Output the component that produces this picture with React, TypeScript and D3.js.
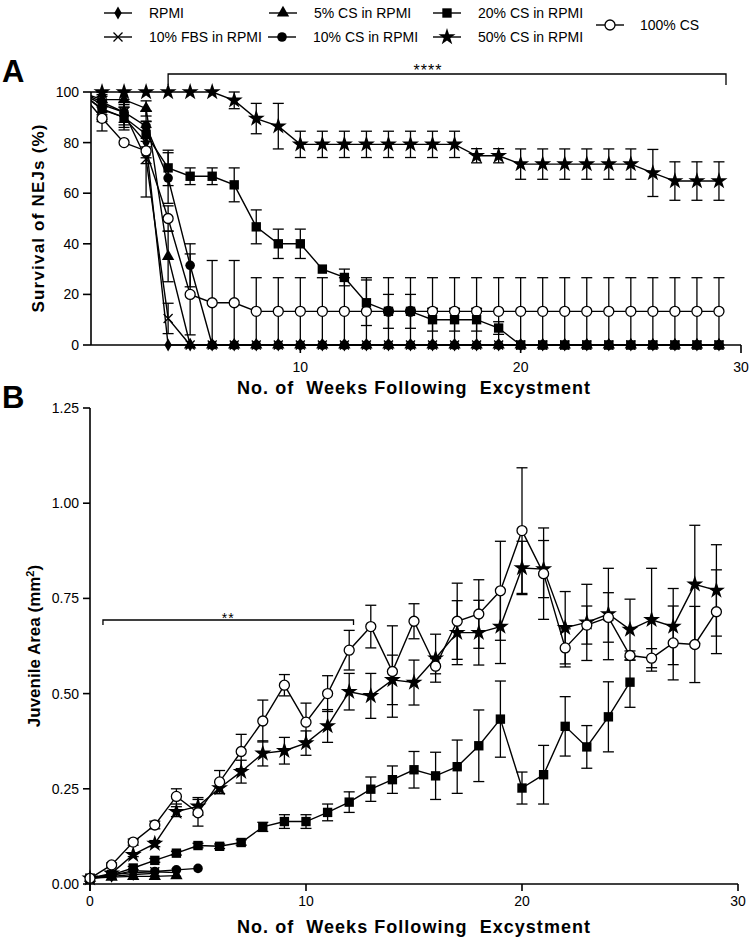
import React from 'react';
import * as d3 from 'd3';

// ---------- DATA ----------
const WEEKS = [0,1,2,3,4,5,6,7,8,9,10,11,12,13,14,15,16,17,18,19,20,21,22,23,24,25,26,27,28,29];

// Panel A: survival of NEJs (%) by week
const survRPMI = [100,93,90,80,0,0,0,0,0,0, 0,0,0,0,0,0,0,0,0,0, 0,0,0,0,0,0,0,0,0,0];
const errRPMI  = [0,4,4,6,0,0,0,0,0,0, 0,0,0,0,0,0,0,0,0,0, 0,0,0,0,0,0,0,0,0,0];
const survFBS  = [100,95,92,73.5,10.5,0,0,0,0,0, 0,0,0,0,0,0,0,0,0,0, 0,0,0,0,0,0,0,0,0,0];
const errFBS   = [0,4,5,15,6,0,0,0,0,0, 0,0,0,0,0,0,0,0,0,0, 0,0,0,0,0,0,0,0,0,0];
const survCS5  = [100,97,97,93.5,35,0,0,0,0,0, 0,0,0,0,0,0,0,0,0,0, 0,0,0,0,0,0,0,0,0,0];
const errCS5   = [0,3,3,3,10,0,0,0,0,0, 0,0,0,0,0,0,0,0,0,0, 0,0,0,0,0,0,0,0,0,0];
const survCS10 = [100,96,92,86.5,66,31.5,0,0,0,0, 0,0,0,0,0,0,0,0,0,0, 0,0,0,0,0,0,0,0,0,0];
const errCS10  = [0,4,4,6,10,8.5,0,0,0,0, 0,0,0,0,0,0,0,0,0,0, 0,0,0,0,0,0,0,0,0,0];
const survCS20 = [100,93.3,90,83.3,70,66.7,66.7,63.3,46.7,40, 40,30,26.7,16.7,13.3,13.3,10,10,10,6.7, 0,0,0,0,0,0,0,0,0,0];
const errCS20  = [0,5,5,5,7,3.3,3.3,6.7,6.7,5.8, 5.8,0,3.3,9,6.7,6.7,4.5,4.5,4.5,2.5, 0,0,0,0,0,0,0,0,0,0];
const survCS50 = [100,100,100,100,100,100,100,96.7,89.5,86.5, 79.3,79.3,79.3,79.3,79.3,79.3,79.3,79.3,74.8,74.8, 71.5,71.5,71.5,71.5,71.5,71.5,68,64.8,64.8,64.8];
const errCS50  = [0,0,0,0,0,0,0,3.3,6,9, 5.2,5.2,5.2,5.2,5.2,5.2,5.2,5.2,2.8,2.8, 6,6,6,6,6,6,9.3,7.6,7.6,7.6];
const survCS100 = [100,89.6,80,76.7,50,20,16.7,16.7,13.3,13.3, 13.3,13.3,13.3,13.3,13.3,13.3,13.3,13.3,13.3,13.3, 13.3,13.3,13.3,13.3,13.3,13.3,13.3,13.3,13.3,13.3];
const errCS100  = [0,5,0,5,5,16,16.7,16.7,13.3,13.3, 13.3,13.3,13.3,13.3,13.3,13.3,13.3,13.3,13.3,13.3, 13.3,13.3,13.3,13.3,13.3,13.3,13.3,13.3,13.3,13.3];

// Panel B: juvenile area (mm^2) by week
const areaRPMI = [0.015,0.02,0.025,0.028];
const areaFBS  = [0.015,0.025,0.03,0.032,0.03];
const areaCS5  = [0.015,0.018,0.02,0.02,0.022];
const areaCS10 = [0.015,0.022,0.035,0.033,0.037,0.041];
const areaCS20 = [0.015,0.024,0.042,0.062,0.081,0.101,0.099,0.109,0.15,0.164, 0.164,0.188,0.215,0.249,0.274,0.30,0.284,0.308,0.363,0.433, 0.252,0.287,0.414,0.36,0.439,0.53];
const aErrCS20 = [0,0.003,0.004,0.005,0.005,0.006,0.006,0.007,0.012,0.018, 0.018,0.022,0.027,0.032,0.036,0.048,0.062,0.07,0.094,0.1, 0.042,0.077,0.078,0.056,0.092,0.066];
const areaCS50 = [0.015,0.028,0.077,0.106,0.19,0.204,0.252,0.295,0.343,0.35, 0.37,0.415,0.505,0.494,0.536,0.529,0.593,0.66,0.66,0.676, 0.83,0.827,0.673,0.687,0.709,0.668,0.694,0.676,0.787,0.771];
const aErrCS50 = [0,0.003,0.005,0.008,0.013,0.023,0.015,0.03,0.033,0.035, 0.032,0.043,0.048,0.059,0.065,0.059,0.063,0.084,0.085,0.097, 0.07,0.075,0.095,0.1,0.12,0.08,0.135,0.1,0.155,0.12];
const areaCS100 = [0.015,0.05,0.11,0.155,0.23,0.187,0.268,0.348,0.428,0.522, 0.425,0.50,0.614,0.676,0.558,0.69,0.572,0.69,0.709,0.77, 0.928,0.815,0.62,0.68,0.70,0.60,0.593,0.633,0.629,0.715];
const aErrCS100 = [0,0.005,0.008,0.01,0.02,0.035,0.03,0.045,0.055,0.028, 0.05,0.047,0.052,0.056,0.12,0.046,0.02,0.1,0.09,0.13, 0.165,0.12,0.05,0.05,0.065,0.012,0.025,0.097,0.1,0.11];

const TICKS_A_Y = [0,20,40,60,80,100];
const TICKS_A_X = [10,20,30];
const TICKS_B_Y = [0,0.25,0.5,0.75,1.0,1.25];
const TICKS_B_X = [0,10,20,30];

type Kind = 'diamond' | 'x' | 'triangle' | 'dot' | 'square' | 'star' | 'open';
const LEGEND: { label: string; kind: Kind; x: number; y: number }[] = [
  { label: 'RPMI', kind: 'diamond', x: 118, y: 13 },
  { label: '5% CS in RPMI', kind: 'triangle', x: 283, y: 13 },
  { label: '20% CS in RPMI', kind: 'square', x: 447, y: 13 },
  { label: '10% FBS in RPMI', kind: 'x', x: 118, y: 37 },
  { label: '10% CS in RPMI', kind: 'dot', x: 282, y: 37 },
  { label: '50% CS in RPMI', kind: 'star', x: 447, y: 37 },
  { label: '100% CS', kind: 'open', x: 610, y: 25 },
];

const FONT = 'Liberation Sans, Arial, sans-serif';

function Marker({ kind, x, y }: { kind: Kind; x: number; y: number }) {
  const t = `translate(${x},${y})`;
  switch (kind) {
    case 'diamond':
      return <path transform={t} d={d3.symbol(d3.symbolDiamond, 48)()!} fill="#000" />;
    case 'triangle':
      return <path transform={t} d={d3.symbol(d3.symbolTriangle, 66)()!} fill="#000" />;
    case 'square':
      return <path transform={t} d={d3.symbol(d3.symbolSquare, 88)()!} fill="#000" />;
    case 'star':
      return <path transform={t} d={d3.symbol(d3.symbolStar, 90)()!} fill="#000" />;
    case 'dot':
      return <circle cx={x} cy={y} r={4.8} fill="#000" />;
    case 'open':
      return <circle cx={x} cy={y} r={5} fill="#fff" stroke="#000" strokeWidth={1.3} />;
    case 'x':
      return <path transform={t} d="M-4.5,-4.5L4.5,4.5M-4.5,4.5L4.5,-4.5" stroke="#000" strokeWidth={1.3} fill="none" />;
  }
  return null;
}

type Series = { kind: Kind; vals: number[]; errs?: number[] };

function Panel({ series, x, y, clipId, clip }: {
  series: Series[]; x: d3.ScaleLinear<number, number>; y: d3.ScaleLinear<number, number>;
  clipId: string; clip: [number, number, number, number];
}) {
  const line = d3.line<number>().x((_, i) => x(WEEKS[i])).y((v) => y(v));
  return (
    <g>
      <defs>
        <clipPath id={clipId}>
          <rect x={clip[0]} y={clip[1]} width={clip[2]} height={clip[3]} />
        </clipPath>
      </defs>
      <g clipPath={`url(#${clipId})`}>
        {series.map((s, si) => (
          <path key={'l' + si} d={line(s.vals)!} fill="none" stroke="#000" strokeWidth={1.4} />
        ))}
        {series.map((s, si) =>
          (s.errs || []).map((e, i) => {
            if (!e) return null;
            const cx = x(WEEKS[i]);
            const y1 = y(s.vals[i] + e);
            const y2 = y(Math.max(0, s.vals[i] - e));
            return (
              <g key={'e' + si + '-' + i} stroke="#000" strokeWidth={1.3}>
                <line x1={cx} x2={cx} y1={y1} y2={y2} />
                <line x1={cx - 5.5} x2={cx + 5.5} y1={y1} y2={y1} />
                <line x1={cx - 5.5} x2={cx + 5.5} y1={y2} y2={y2} />
              </g>
            );
          })
        )}
        {series.map((s, si) =>
          s.vals.map((v, i) => (WEEKS[i] === 0 && x(0) < clip[0] ? null :
            <Marker key={'m' + si + '-' + i} kind={s.kind} x={x(WEEKS[i])} y={y(v)} />
          ))
        )}
      </g>
    </g>
  );
}

export default function App() {
  // Panel A scales
  const xA = d3.scaleLinear().domain([0.5, 30]).range([91, 741]);
  const yA = d3.scaleLinear().domain([0, 100]).range([345, 92]);
  // Panel B scales
  const xB = d3.scaleLinear().domain([0, 30]).range([90, 738]);
  const yB = d3.scaleLinear().domain([0, 1.25]).range([884, 408]);

  const seriesA: Series[] = [
    { kind: 'diamond', vals: survRPMI, errs: errRPMI },
    { kind: 'x', vals: survFBS, errs: errFBS },
    { kind: 'triangle', vals: survCS5, errs: errCS5 },
    { kind: 'dot', vals: survCS10, errs: errCS10 },
    { kind: 'open', vals: survCS100, errs: errCS100 },
    { kind: 'square', vals: survCS20, errs: errCS20 },
    { kind: 'star', vals: survCS50, errs: errCS50 },
  ];
  const seriesB: Series[] = [
    { kind: 'diamond', vals: areaRPMI },
    { kind: 'x', vals: areaFBS },
    { kind: 'triangle', vals: areaCS5 },
    { kind: 'dot', vals: areaCS10 },
    { kind: 'square', vals: areaCS20, errs: aErrCS20 },
    { kind: 'star', vals: areaCS50, errs: aErrCS50 },
    { kind: 'open', vals: areaCS100, errs: aErrCS100 },
  ];

  const axisStroke = { stroke: '#000', strokeWidth: 1.6 };
  const xTitle = 'No. of  Weeks Following  Excystment';

  return (
    <svg width={751} height={939} style={{ position: 'absolute', left: 0, top: 0, display: 'block', background: '#fff' }}
      fontFamily={FONT}>
      <rect width={751} height={939} fill="#fff" />

      {/* Legend */}
      {LEGEND.map((l) => (
        <g key={l.label}>
          <line x1={l.x - 14} x2={l.x + 14} y1={l.y} y2={l.y} stroke="#000" strokeWidth={1.4} />
          <Marker kind={l.kind} x={l.x} y={l.y} />
          <text x={l.x + (l.kind === 'open' ? 30 : 31)} y={l.y + 5} fontSize={14}>{l.label}</text>
        </g>
      ))}

      {/* Panel A */}
      <text x={2} y={82} fontSize={31} fontWeight="bold">A</text>
      <Panel series={seriesA} x={xA} y={yA} clipId="clipA" clip={[91, 40, 660, 320]} />
      <line x1={91} x2={91} y1={yA(100)} y2={yA(0)} {...axisStroke} />
      <line x1={91} x2={741} y1={yA(0)} y2={yA(0)} {...axisStroke} />
      {TICKS_A_Y.map((t) => (
        <g key={'ay' + t}>
          <line x1={83} x2={91} y1={yA(t)} y2={yA(t)} {...axisStroke} />
          <text x={79} y={yA(t) + 5} fontSize={14} textAnchor="end">{t}</text>
        </g>
      ))}
      {TICKS_A_X.map((t) => (
        <g key={'ax' + t}>
          <line x1={xA(t)} x2={xA(t)} y1={yA(0)} y2={yA(0) + 8} {...axisStroke} />
          <text x={xA(t)} y={372} fontSize={14} textAnchor="middle">{t}</text>
        </g>
      ))}
      <text x={237} y={394} fontSize={18} fontWeight="bold" textLength={353} lengthAdjust="spacing" style={{ whiteSpace: 'pre' }}>
        {xTitle}
      </text>
      <text transform={`translate(44,${(yA(0) + yA(100)) / 2}) rotate(-90)`} fontSize={17} fontWeight="bold"
        textAnchor="middle" textLength={188} lengthAdjust="spacing">
        Survival of NEJs (%)
      </text>
      <path d={`M${xA(4)},85V74H726V85`} fill="none" stroke="#000" strokeWidth={1.3} />
      <text x={428} y={76} fontSize={16} textAnchor="middle" letterSpacing={1}>****</text>

      {/* Panel B */}
      <text x={2} y={408} fontSize={31} fontWeight="bold">B</text>
      <Panel series={seriesB} x={xB} y={yB} clipId="clipB" clip={[0, 400, 751, 500]} />
      <line x1={90} x2={90} y1={yB(1.25)} y2={yB(0) + 7} {...axisStroke} />
      <line x1={90} x2={738} y1={yB(0)} y2={yB(0)} {...axisStroke} />
      {TICKS_B_Y.map((t) => (
        <g key={'by' + t}>
          <line x1={83} x2={90} y1={yB(t)} y2={yB(t)} {...axisStroke} />
          <text x={79} y={yB(t) + 5} fontSize={14} textAnchor="end">{t.toFixed(2)}</text>
        </g>
      ))}
      {TICKS_B_X.map((t) => (
        <g key={'bx' + t}>
          <line x1={xB(t)} x2={xB(t)} y1={yB(0)} y2={yB(0) + 7} {...axisStroke} />
          <text x={xB(t)} y={906} fontSize={14} textAnchor="middle">{t}</text>
        </g>
      ))}
      <text x={237} y={933} fontSize={18} fontWeight="bold" textLength={353} lengthAdjust="spacing" style={{ whiteSpace: 'pre' }}>
        {xTitle}
      </text>
      <text transform={`translate(40,${(yB(0) + yB(1.25)) / 2}) rotate(-90)`} fontSize={17} fontWeight="bold" textAnchor="middle">
        Juvenile Area (mm<tspan dy={-6} fontSize={11}>2</tspan><tspan dy={6}>)</tspan>
      </text>
      <path d={`M${xB(0.6)},625V620H${xB(12.2)}V625`} fill="none" stroke="#000" strokeWidth={1.3} />
      <text x={(xB(0.6) + xB(12.2)) / 2} y={623} fontSize={14} textAnchor="middle" letterSpacing={1}>**</text>
    </svg>
  );
}
